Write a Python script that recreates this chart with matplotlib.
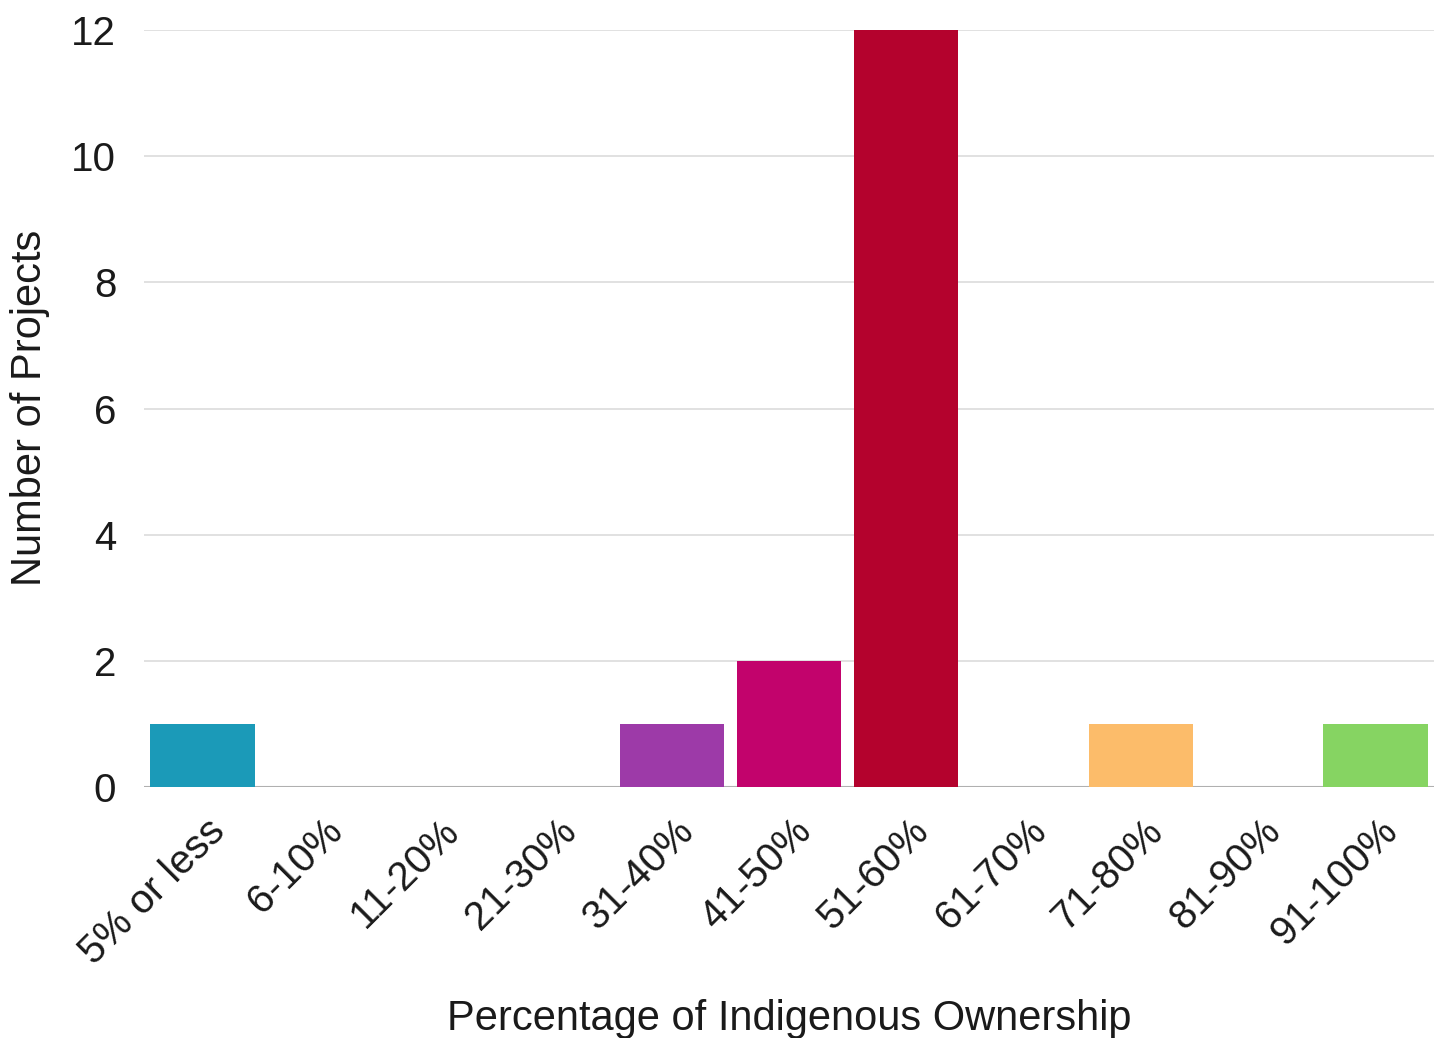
import matplotlib.pyplot as plt
from matplotlib.transforms import ScaledTranslation

plt.rcParams['font.family'] = ['Liberation Sans', 'DejaVu Sans']

categories = ['5% or less', '6-10%', '11-20%', '21-30%', '31-40%', '41-50%',
              '51-60%', '61-70%', '71-80%', '81-90%', '91-100%']
projects = [1, 0, 0, 0, 1, 2, 12, 0, 1, 0, 1]
colors = ['#1b9ab8', '#f5c07a', '#f5c07a', '#f5c07a', '#9d3aa8', '#c2036c',
          '#b4022d', '#f5c07a', '#fcbc6a', '#f5c07a', '#86d462']

fig = plt.figure(figsize=(14.34, 10.38), dpi=100)
ax = fig.add_axes([0.1004, 0.2418, 0.8996, 0.7292])

x = list(range(len(categories)))
ax.bar(x, projects, width=0.89, color=colors, zorder=3)

ax.set_xlim(-0.5, len(categories) - 0.5)
ax.set_ylim(0, 12)
ax.set_yticks([0, 2, 4, 6, 8, 10, 12])
ax.grid(axis='y', color='#dcdcdc', linewidth=1.2, zorder=0)
ax.axhline(0, color='#b0b0b0', linewidth=1.5, zorder=2)

for s in ['top', 'right', 'left', 'bottom']:
    ax.spines[s].set_visible(False)

ax.tick_params(axis='both', length=0, labelsize=29, labelcolor='#1a1a1a')
ax.tick_params(axis='y', pad=20)
ax.set_xticks(x)
ax.set_xticklabels(categories, rotation=45, ha='right', rotation_mode='anchor')
offset = ScaledTranslation(0.03, -0.2, fig.dpi_scale_trans)
for lbl in ax.get_xticklabels():
    lbl.set_transform(lbl.get_transform() + offset)

fig.text(30 / 1434, 1 - 408 / 1038, 'Number of Projects', rotation=90,
         fontsize=30, color='#1a1a1a', ha='center', va='center')
fig.text(789 / 1434, 1 - 1019 / 1038, 'Percentage of Indigenous Ownership',
         fontsize=30, color='#1a1a1a', ha='center', va='center')

fig.savefig('out.png', dpi=100)
